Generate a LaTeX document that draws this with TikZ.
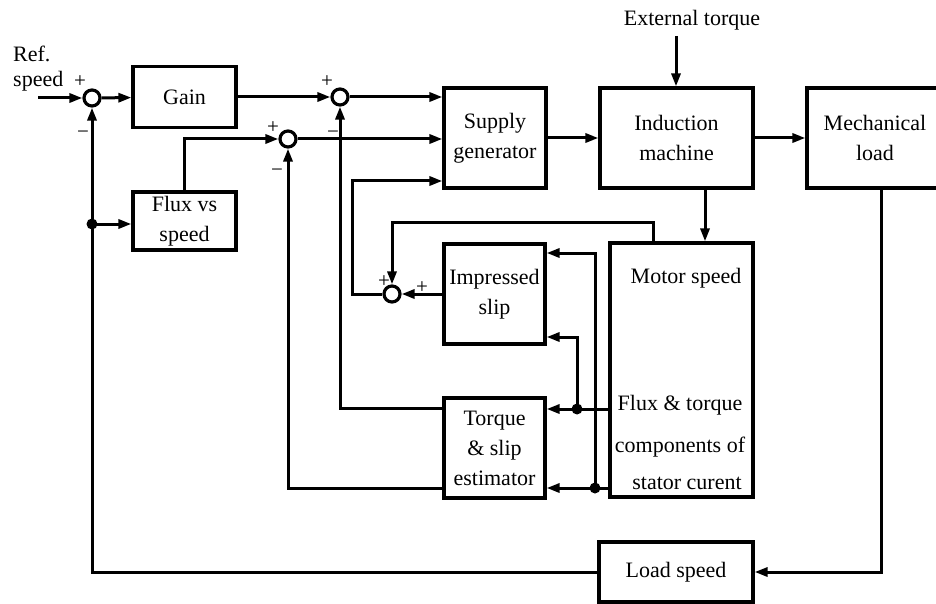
\documentclass[tikz,border=0pt]{standalone}
\usepackage{fontspec}
\setmainfont{Liberation Serif}
\usetikzlibrary{arrows.meta}
\begin{document}
\begin{tikzpicture}[x=1pt,y=-1pt,
  box/.style={draw,line width=3.2pt,align=center,font=\fontsize{22}{30}\selectfont,inner sep=0pt},
  sum/.style={draw,circle,line width=3.2pt,minimum size=16pt,inner sep=0pt},
  conn/.style={line width=3pt},
  arr/.style={conn,-{Triangle[length=13pt,width=9pt]}},
  lbl/.style={font=\fontsize{22}{26}\selectfont,inner sep=0pt},
  sgn/.style={font=\fontsize{21}{21}\selectfont,inner sep=0pt},
  dot/.style={circle,fill,minimum size=11pt,inner sep=0pt}]
\path[use as bounding box] (0,0) rectangle (936,604);
\clip (0,0) rectangle (936,604);

% summing junctions
\node[sum] (s1) at (92,98) {};
\node[sum] (s2) at (340,97) {};
\node[sum] (s3) at (288,139) {};
\node[sum] (s4) at (392,294) {};

% blocks
\node[box,minimum width=103pt,minimum height=61pt] (gain) at (184.5,97) {Gain};
\node[box,minimum width=103pt,minimum height=58pt] (flux) at (184.5,221) {Flux vs\\speed};
\node[box,minimum width=102pt,minimum height=100pt] (supply) at (495,138) {Supply\\generator};
\node[box,minimum width=153pt,minimum height=100pt] (induct) at (676.5,138) {Induction\\machine};
\node[box,minimum width=136pt,minimum height=100pt] (mech) at (875,138) {Mechanical\\load};
\node[box,minimum width=101pt,minimum height=100pt] (impressed) at (494.5,294) {Impressed\\slip};
\node[box,minimum width=101pt,minimum height=100pt] (torque) at (494.5,448) {Torque\\\& slip\\estimator};
\node[box,minimum width=143pt,minimum height=254pt] (motor) at (681.5,370) {};
\node[box,minimum width=154pt,minimum height=60pt] (load) at (676,572) {Load speed};

% texts
\node[lbl,anchor=west] (ref1) at (13,54) {Ref.};
\node[lbl,anchor=west] (ref2) at (13,81) {speed};
\node[lbl] (ext) at (692,20) {External torque};
\node[lbl] (ms) at (686,278) {Motor speed};
\node[lbl] (ft1) at (680,405) {Flux \& torque};
\node[lbl] (ft2) at (680,447) {components of};
\node[lbl] (ft3) at (687,483) {stator curent};

% signs
\node[sgn] (p1) at (80,82) {+};
\node[sgn] (m1) at (83,135) {−};
\node[sgn] (p2) at (327,82) {+};
\node[sgn] (m2) at (333,135) {−};
\node[sgn] (p3) at (273,128) {+};
\node[sgn] (m3) at (277,173) {−};
\node[sgn] (p4) at (384,282) {+};
\node[sgn] (p5) at (422,288) {+};

% coordinates
\coordinate (in) at (38,98);
\coordinate (j1) at (92,224);
\coordinate (j2) at (577,409);
\coordinate (j3) at (595,488);
\coordinate (et) at (676,36);
\coordinate (im) at (705,188);
\coordinate (mt) at (653,243);
\coordinate (ml) at (881,188);
\coordinate (sg) at (400,181);
\coordinate (i1) at (560,253);
\coordinate (i2) at (560,337);
\coordinate (t1) at (400,408);
\coordinate (t2) at (400,488);

% connectors
\draw[arr] (in) -- (s1);
\draw[arr] (s1) -- (gain);
\draw[arr] (gain) -- (s2);
\draw[arr] (s2) -- (s2 -| supply.west);
\draw[arr] (s3) -- (s3 -| supply.west);
\draw[arr] (flux.north) |- (s3);
\draw[arr] (load.west) -| (s1);
\draw[arr] (j1) -- (j1 -| flux.west);
\draw[arr] (ml) |- (load.east);
\draw[arr] (supply) -- (induct);
\draw[arr] (induct) -- (mech);
\draw[arr] (et) -- (et |- induct.north);
\draw[arr] (im) -- (im |- motor.north);
\draw[arr] (mt) -- ++(0,-21) -| (s4);
\draw[arr] (impressed) -- (s4);
\draw[arr] (s4.west) -- ++(-30,0) |- (sg -| supply.west);
\draw[arr] (j2 -| motor.west) -- (j2 -| torque.east);
\draw[arr] (j2) |- (i2 -| impressed.east);
\draw[arr] (j3 -| motor.west) -- (j3 -| torque.east);
\draw[arr] (j3) |- (i1 -| impressed.east);
\draw[arr] (t1 -| torque.west) -| (s2);
\draw[arr] (t2 -| torque.west) -| (s3);

% junction dots
\node[dot] (d1) at (j1) {};
\node[dot] (d2) at (j2) {};
\node[dot] (d3) at (j3) {};
\end{tikzpicture}
\end{document}
